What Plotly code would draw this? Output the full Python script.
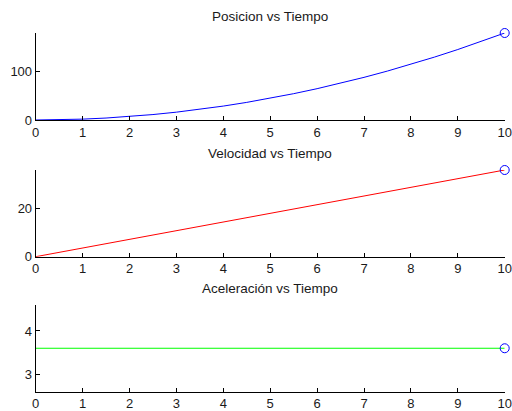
import plotly.graph_objects as go

tiempo = [0, 0.5, 1, 1.5, 2, 2.5, 3, 3.5, 4, 4.5, 5, 5.5, 6, 6.5, 7, 7.5, 8, 8.5, 9, 9.5, 10]
posicion = [0, 0.45, 1.8, 4.05, 7.2, 11.25, 16.2, 22.05, 28.8, 36.45, 45, 54.45, 64.8,
            76.05, 88.2, 101.25, 115.2, 130.05, 145.8, 162.45, 180]
velocidad = [0, 1.8, 3.6, 5.4, 7.2, 9, 10.8, 12.6, 14.4, 16.2, 18, 19.8, 21.6, 23.4,
             25.2, 27, 28.8, 30.6, 32.4, 34.2, 36]
aceleracion = [3.6] * 21
titulos = ["Posicion vs Tiempo", "Velocidad vs Tiempo", "Aceleración vs Tiempo"]
x_ticks = [0, 1, 2, 3, 4, 5, 6, 7, 8, 9, 10]
y_ticks = [[0, 100], [0, 20], [3, 4]]
y_ranges = [[0, 180], [0, 36], [2.6, 4.6]]

H = 411
W = 512
x_dom = [35.7 / W, 504.7 / W]
y_px = [(33, 120), (170, 256.7), (305, 391.5)]
colores = ["#0000ff", "#ff0000", "#00ff00"]
series = [posicion, velocidad, aceleracion]

fig = go.Figure()
tick_font = dict(family="Liberation Sans, Arial, sans-serif", size=13, color="#1a1a1a")
title_font = dict(family="Liberation Sans, Arial, sans-serif", size=13.5, color="#1a1a1a")

for i in range(3):
    xa = "x" if i == 0 else f"x{i+1}"
    ya = "y" if i == 0 else f"y{i+1}"
    fig.add_trace(go.Scatter(x=tiempo, y=series[i], mode="lines",
                             line=dict(color=colores[i], width=1),
                             xaxis=xa, yaxis=ya, showlegend=False, cliponaxis=False))
    fig.add_trace(go.Scatter(x=[tiempo[-1]], y=[series[i][-1]], mode="markers",
                             marker=dict(symbol="circle-open", color="#0000ff", size=9,
                                         line=dict(width=1)),
                             xaxis=xa, yaxis=ya, showlegend=False, cliponaxis=False))
    top, bot = y_px[i]
    dom = [(H - bot) / H, (H - top) / H]
    suffix = "" if i == 0 else str(i + 1)
    fig.layout["xaxis" + suffix] = dict(
        domain=x_dom, range=[0, 10], anchor=ya, tickvals=x_ticks,
        ticks="inside", ticklen=4, tickcolor="#000", showline=True, linecolor="#000",
        linewidth=1, showgrid=False, zeroline=False, tickfont=tick_font, automargin=False,
        fixedrange=True)
    fig.layout["yaxis" + suffix] = dict(
        domain=dom, range=y_ranges[i], anchor=xa, tickvals=y_ticks[i],
        ticks="inside", ticklen=4, tickcolor="#000", showline=True, linecolor="#000",
        linewidth=1, showgrid=False, zeroline=False, tickfont=tick_font, automargin=False,
        fixedrange=True)
    fig.add_annotation(text=titulos[i], x=(x_dom[0] + x_dom[1]) / 2, y=(H - top + 7) / H,
                       xref="paper", yref="paper", showarrow=False, yanchor="bottom",
                       font=title_font)

fig.update_layout(width=W, height=H, margin=dict(l=0, r=0, t=0, b=0),
                  paper_bgcolor="white", plot_bgcolor="white")
fig.write_html("out.html")
